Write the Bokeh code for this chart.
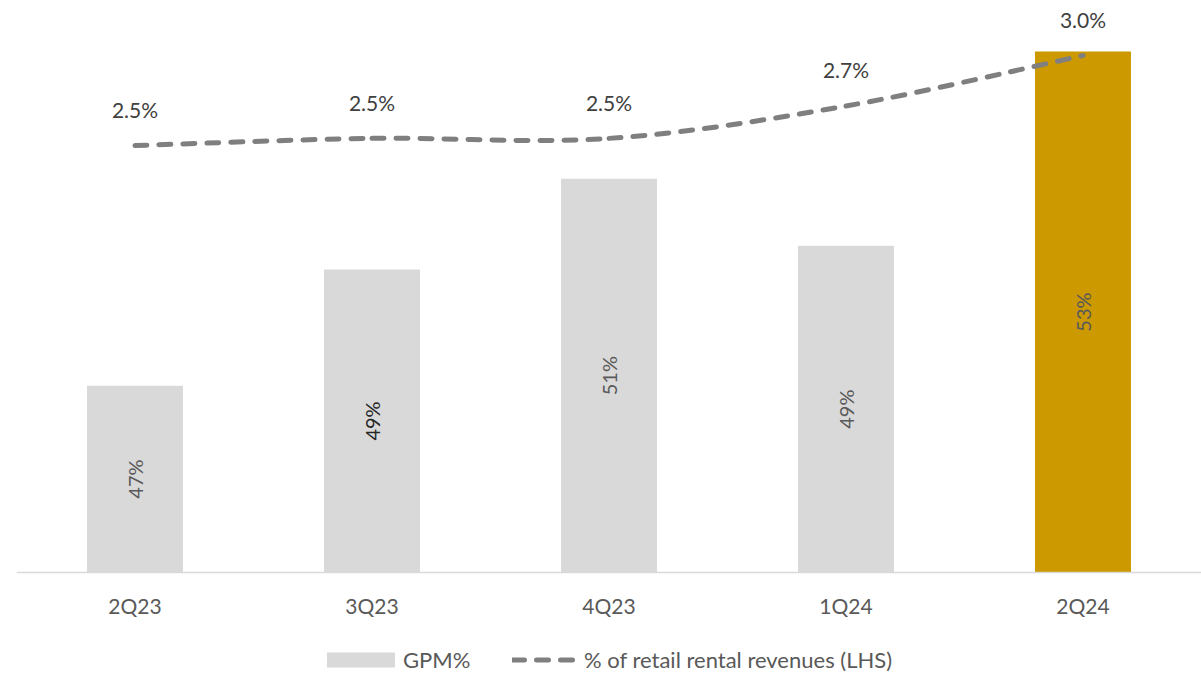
import numpy as np
from bokeh.plotting import figure
from bokeh.models import Range1d, FixedTicker, ColumnDataSource, Legend, LegendItem
from bokeh.embed import file_html
from bokeh.resources import INLINE
from bokeh.core.properties import value

# ---- data ----
quarters = ["2Q23", "3Q23", "4Q23", "1Q24", "2Q24"]
gpm = [47.07, 48.98, 50.47, 49.37, 52.56]          # GPM% (bars)
gpm_labels = ["47%", "49%", "51%", "49%", "53%"]
rental_share = [2.50, 2.54, 2.54, 2.72, 3.00]      # % of retail rental revenues (LHS)
rental_labels = ["2.5%", "2.5%", "2.5%", "2.7%", "3.0%"]

FONT = "Lato"
FS_BAR = "20px"
FS_VAL = "21px"
FS_TICK = "21px"
FS_LEG = "22px"
BAR_BASE = 44.0

x = np.arange(len(quarters), dtype=float)
n = len(quarters)
bar_colors = ["#cc9900" if i == n - 1 else "#d9d9d9" for i in range(n)]
lab_colors = ["#262626" if i == 1 else "#595959" for i in range(n)]

bars_src = ColumnDataSource(dict(
    x=x, top=gpm, mid=[(BAR_BASE + v) / 2 for v in gpm],
    color=bar_colors, label=gpm_labels, lcolor=lab_colors))
line_src = ColumnDataSource(dict(x=x, y=rental_share, label=rental_labels))

# smooth (Catmull-Rom) bezier segments computed from the data points
ys = np.array(rental_share)
px = np.concatenate([[x[0]], x, [x[-1]]])
py = np.concatenate([[ys[0]], ys, [ys[-1]]])
seg = dict(x0=[], y0=[], x1=[], y1=[], cx0=[], cy0=[], cx1=[], cy1=[])
for i in range(n - 1):
    a, b, c, d = i, i + 1, i + 2, i + 3
    seg["x0"].append(px[b]); seg["y0"].append(py[b])
    seg["x1"].append(px[c]); seg["y1"].append(py[c])
    seg["cx0"].append(px[b] + (px[c] - px[a]) / 6); seg["cy0"].append(py[b] + (py[c] - py[a]) / 6)
    seg["cx1"].append(px[c] - (px[d] - px[b]) / 6); seg["cy1"].append(py[c] - (py[d] - py[b]) / 6)
seg_src = ColumnDataSource(seg)

# frame covers the whole canvas; the category axis is pinned at the bar base
H, PLOT_H = 673, 572
gpm_top = 53.4
gpm_start = BAR_BASE - (H - PLOT_H) * (gpm_top - BAR_BASE) / PLOT_H
lhs_lo, lhs_hi = 0.128, 3.306
lhs_start = lhs_lo - (H - PLOT_H) * (lhs_hi - lhs_lo) / PLOT_H

p = figure(width=1201, height=H, x_range=Range1d(-0.5, n - 0.5),
           y_range=Range1d(gpm_start, gpm_top), output_backend="svg",
           toolbar_location=None, y_axis_location=None,
           min_border_left=16, min_border_right=0, min_border_top=0,
           min_border_bottom=0)
p.extra_y_ranges = {"lhs": Range1d(lhs_start, lhs_hi)}
p.outline_line_color = None
p.xgrid.visible = False
p.ygrid.visible = False
p.background_fill_color = "white"
p.border_fill_color = "white"

bars = p.vbar(x="x", top="top", bottom=BAR_BASE, width=0.405,
              fill_color="color", line_color=None, source=bars_src)

p.text(x="x", y="mid", text="label", angle=np.pi / 2, source=bars_src,
       text_align="center", text_baseline="middle", text_color="lcolor",
       text_font=value(FONT), text_font_size=FS_BAR)

line_style = dict(line_color="#7f7f7f", line_width=5, line_dash="12 12",
                  line_cap="round")
p.bezier(x0="x0", y0="y0", x1="x1", y1="y1", cx0="cx0", cy0="cy0",
         cx1="cx1", cy1="cy1", source=seg_src, y_range_name="lhs", **line_style)
# hidden line renderer that provides the legend swatch
legend_line = p.line(x="x", y="y", source=line_src, y_range_name="lhs", **line_style)
legend_line.visible = False

p.text(x="x", y="y", text="label", source=line_src, y_range_name="lhs",
       y_offset=-36, text_align="center", text_baseline="middle",
       text_color="#404040", text_font=value(FONT), text_font_size=FS_VAL)

ax = p.xaxis[0]
ax.fixed_location = BAR_BASE
ax.ticker = FixedTicker(ticks=list(x))
ax.major_label_overrides = {float(i): q for i, q in zip(x, quarters)}
ax.major_tick_line_color = None
ax.minor_tick_line_color = None
ax.major_tick_out = 0
ax.major_tick_in = 0
ax.axis_line_color = "#d9d9d9"
ax.axis_line_width = 1.5
ax.major_label_standoff = 20
ax.major_label_text_font = FONT
ax.major_label_text_font_size = FS_TICK
ax.major_label_text_color = "#595959"

common = dict(orientation="horizontal", padding=0, margin=0, spacing=0,
              border_line_color=None, background_fill_alpha=0,
              label_text_font=FONT, label_text_font_size=FS_LEG,
              label_text_color="#595959", label_height=20)
leg1 = Legend(items=[LegendItem(label="GPM%", renderers=[bars], index=0)],
              location=(302, 0), glyph_width=85, glyph_height=19,
              label_standoff=0, **common)
leg2 = Legend(items=[LegendItem(label="% of retail rental revenues (LHS)",
                                renderers=[legend_line])],
              location=(496, 0), glyph_width=65, glyph_height=19,
              label_standoff=7, **common)
p.add_layout(leg1, "center")
p.add_layout(leg2, "center")

open("out.html", "w").write(file_html(p, INLINE))
